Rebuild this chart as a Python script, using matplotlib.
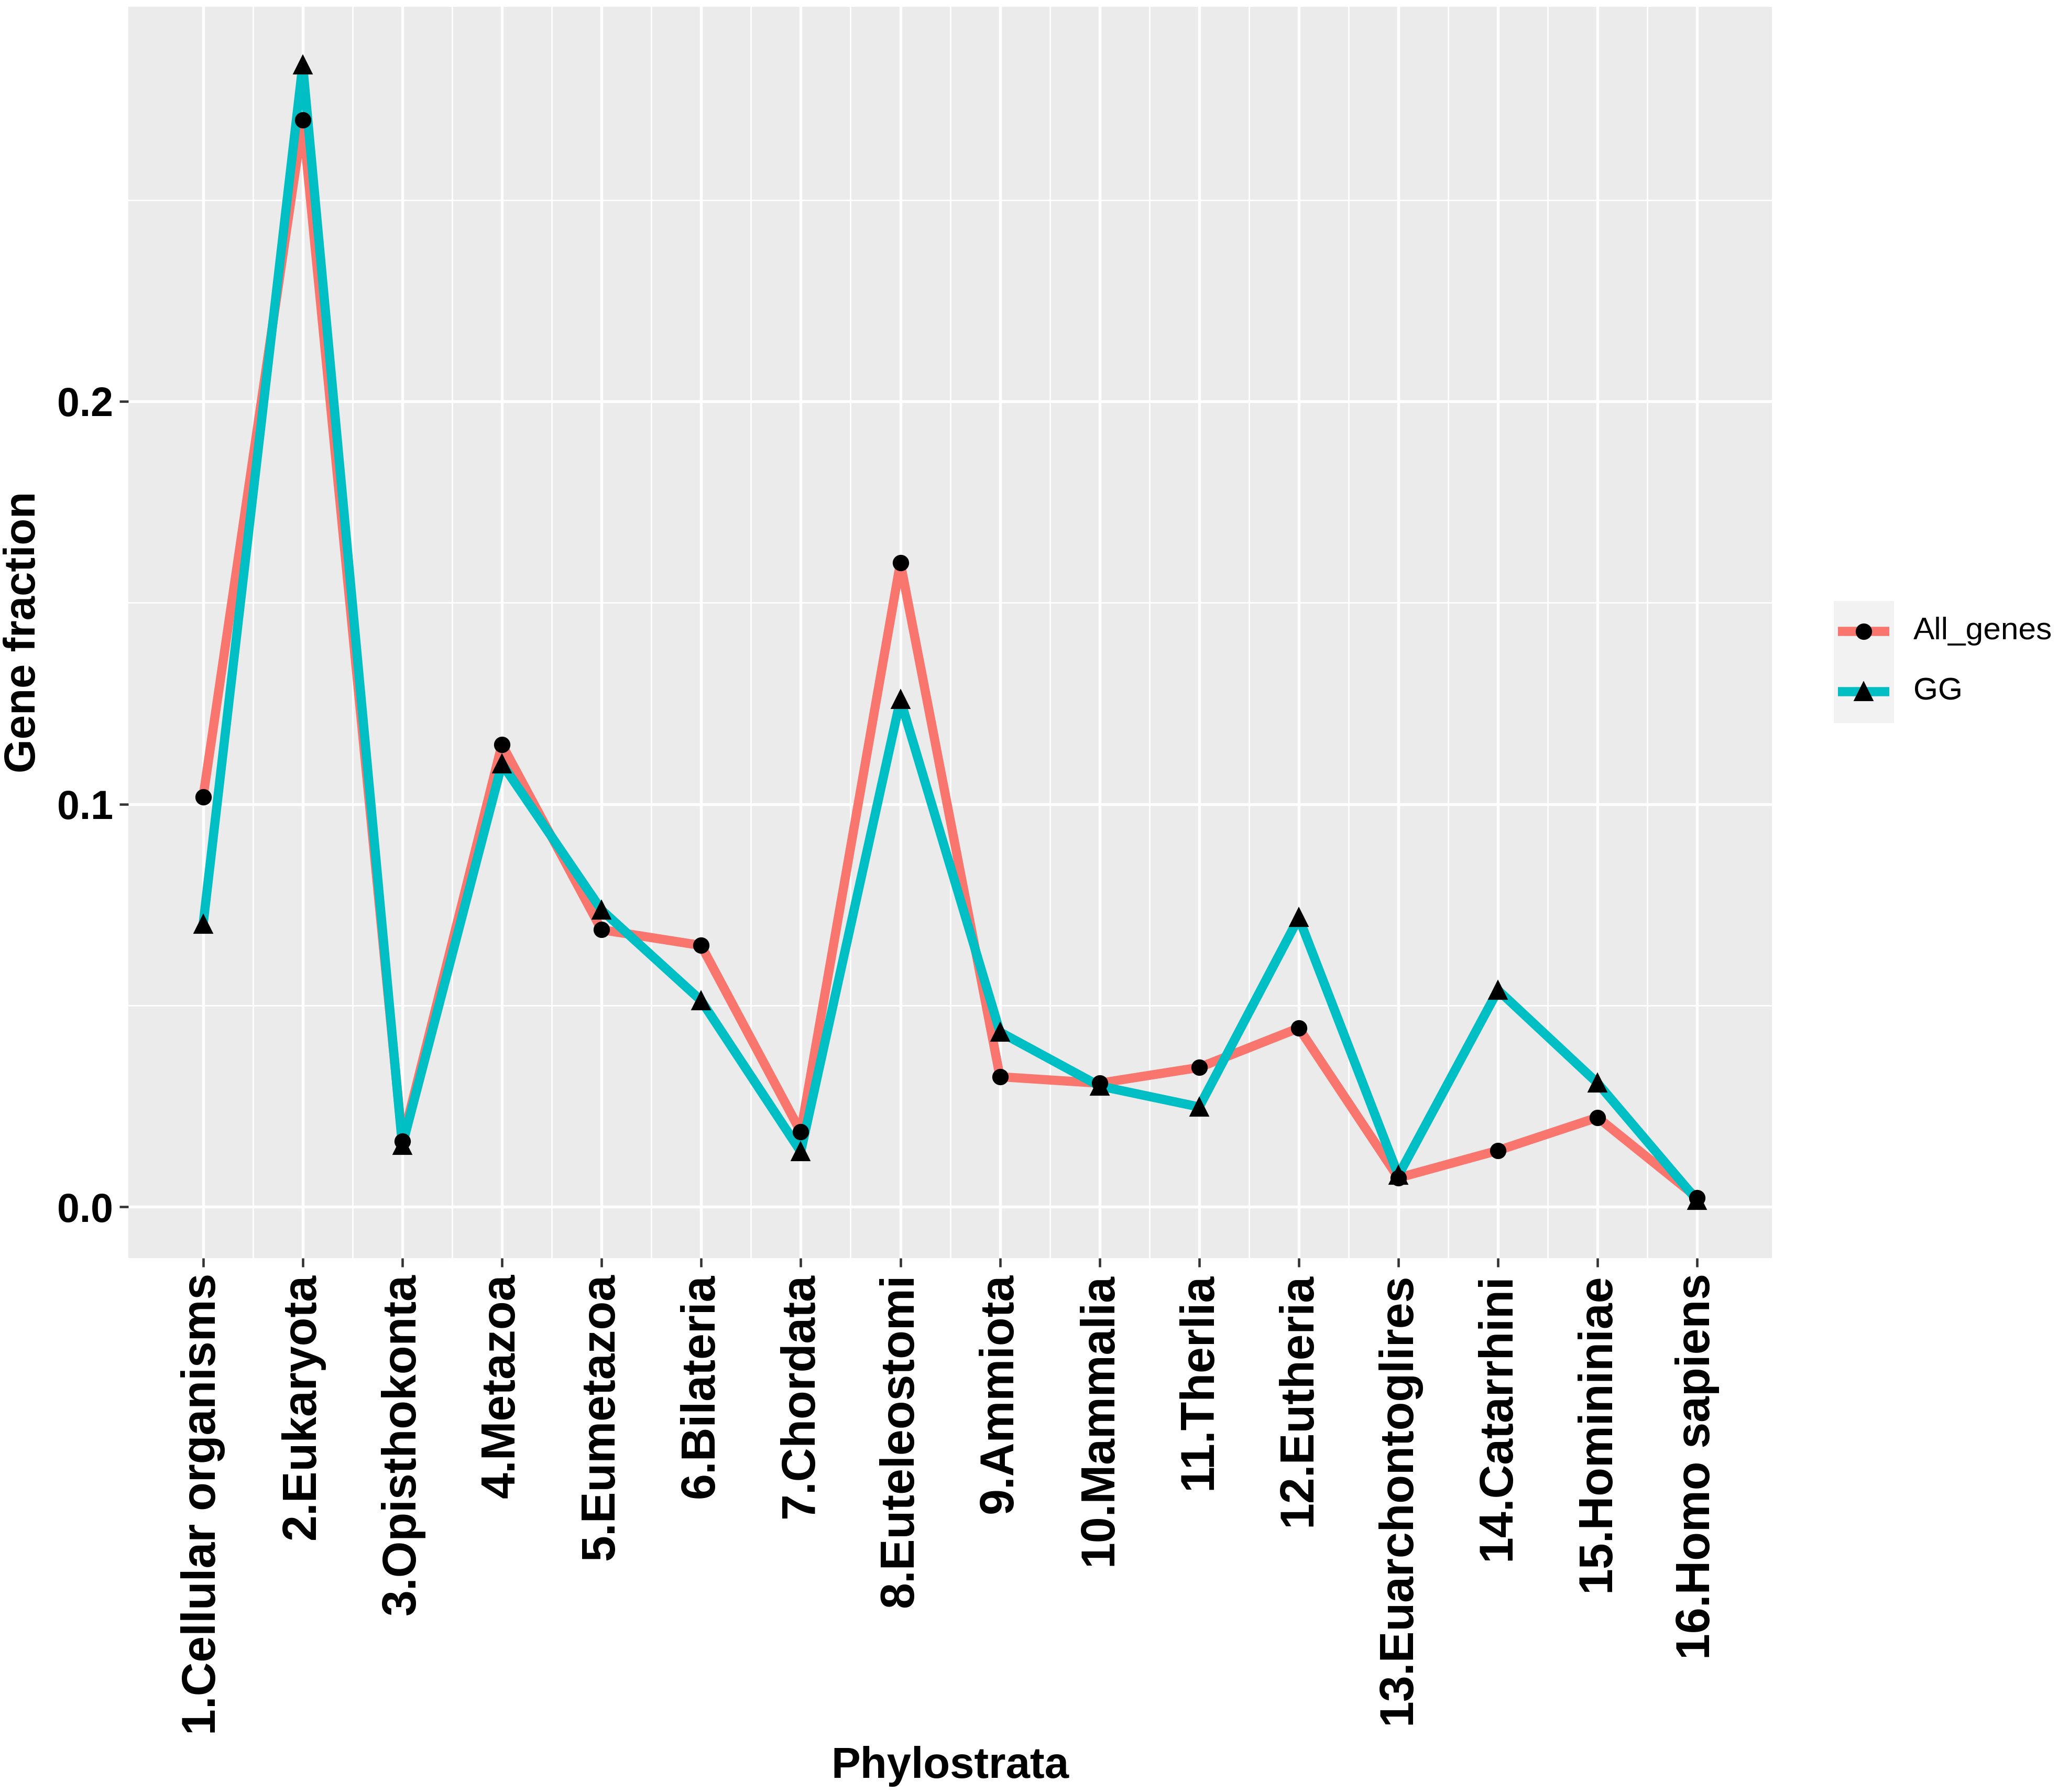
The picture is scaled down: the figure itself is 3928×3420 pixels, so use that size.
import matplotlib.pyplot as plt
from matplotlib.lines import Line2D
from matplotlib.patches import Rectangle
import numpy as np

plt.rcParams['font.family'] = ['Liberation Sans', 'DejaVu Sans']

# Data
strata = ["1.Cellular organisms", "2.Eukaryota", "3.Opisthokonta", "4.Metazoa",
          "5.Eumetazoa", "6.Bilateria", "7.Chordata", "8.Euteleostomi",
          "9.Ammiota", "10.Mammalia", "11.Therlia", "12.Eutheria",
          "13.Euarchontoglires", "14.Catarrhini", "15.Homininiae", "16.Homo sapiens"]
all_genes = [0.1018, 0.2698, 0.0163, 0.1148, 0.0688, 0.0649, 0.0186, 0.1599,
             0.0323, 0.0307, 0.0346, 0.0444, 0.0072, 0.0140, 0.0222, 0.0023]
gg = [0.0701, 0.2835, 0.0153, 0.1100, 0.0737, 0.0512, 0.0137, 0.1259,
      0.0434, 0.0300, 0.0248, 0.0718, 0.0078, 0.0538, 0.0307, 0.0016]

red = '#F8766D'
teal = '#00BFC4'

fig = plt.figure(figsize=(3928 / 300, 3420 / 300), dpi=300)
ax = fig.add_axes([0.0624, 0.298, 0.7986, 0.6983])

x = np.arange(1, len(strata) + 1)

# panel look (ggplot grey theme)
ax.set_facecolor('#EBEBEB')
for s in ax.spines.values():
    s.set_visible(False)
ax.set_xticks(x)
ax.set_xticks(x[:-1] + 0.5, minor=True)
ax.set_yticks([0.0, 0.1, 0.2])
ax.set_yticks([0.05, 0.15, 0.25], minor=True)
ax.grid(which='major', color='white', linewidth=1.3)
ax.grid(which='minor', color='white', linewidth=0.65)
ax.set_axisbelow(True)

# lines first, then points
ax.plot(x, all_genes, color=red, linewidth=4.2, solid_capstyle='butt', zorder=2)
ax.plot(x, gg, color=teal, linewidth=4.2, solid_capstyle='butt', zorder=3)
ax.plot(x, all_genes, linestyle='none', marker='o', color='black', markersize=6.5, zorder=4)
ax.plot(x, gg, linestyle='none', marker='^', color='black', markersize=7.5, zorder=4)

ax.set_xlim(0.25, 16.75)
ax.set_ylim(-0.0127, 0.298)

ax.set_xticklabels(strata, rotation=90, fontsize=21.5, fontweight='bold', color='black')
ax.set_yticklabels(["0.0", "0.1", "0.2"], fontsize=18.5, fontweight='bold', color='black')
ax.tick_params(which='major', length=4, width=1.1, color='#333333', pad=3)
ax.tick_params(which='minor', length=0)

ax.set_xlabel("Phylostrata", fontsize=20, fontweight='bold', labelpad=5)
ax.set_ylabel("Gene fraction", fontsize=20, fontweight='bold', labelpad=6)

# legend drawn by hand, ggplot style
fig.add_artist(Rectangle((0.891, 0.5965), 0.0293, 0.0681, transform=fig.transFigure,
                         facecolor='#F2F2F2', edgecolor='none'))
for yy, col, mk, ms, lab in [(0.6477, red, 'o', 6.5, "All_genes"), (0.614, teal, '^', 7.5, "GG")]:
    fig.add_artist(Line2D([0.893, 0.918], [yy, yy], transform=fig.transFigure,
                          color=col, linewidth=4.2, solid_capstyle='butt'))
    fig.add_artist(Line2D([0.9055], [yy], transform=fig.transFigure, linestyle='none',
                          marker=mk, color='black', markersize=ms))
    fig.text(0.9297, yy, lab, fontsize=14.5, va='center', ha='left')

fig.savefig('out.png', dpi=300, facecolor='white')
